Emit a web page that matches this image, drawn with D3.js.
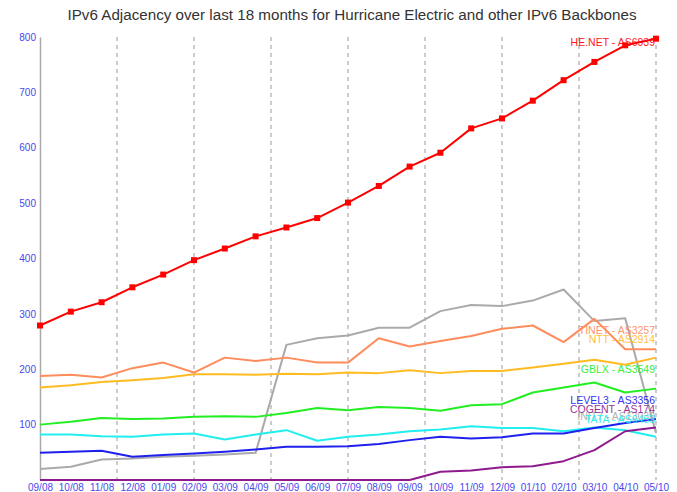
<!DOCTYPE html>
<html><head><meta charset="utf-8">
<script src="https://cdn.jsdelivr.net/npm/d3@7"></script>
<style>body{margin:0;background:#fff}svg{display:block}text{font-family:"Liberation Sans",Arial,sans-serif}</style>
</head><body><div id="chart"></div>
<script>
const months = ["09/08","10/08","11/08","12/08","01/09","02/09","03/09","04/09","05/09","06/09","07/09","08/09","09/09","10/09","11/09","12/09","01/10","02/10","03/10","04/10","05/10"];
const yTicks = [100,200,300,400,500,600,700,800];
const heNet  = [279,304,321,348,371,397,418,440,456,473,501,531,566,591,635,653,685,722,755,785,797];
const tinet  = [188,190,185,202,212,194,221,215,221,212,212,256,241,251,260,273,279,249,291,236,236];
const ntt    = [167,171,177,180,184,191,191,190,192,191,194,193,198,193,197,197,203,210,217,208,221];
const gblx   = [100,105,112,110,111,114,115,114,121,130,126,132,130,125,135,137,158,167,176,158,165];
const level3 = [49,51,53,42,45,48,51,55,60,60,61,65,72,78,75,77,84,84,94,103,110];
const cogent = [0,0,0,0,0,0,0,0,0,0,0,0,0,15,17,23,25,34,54,88,95];
const tata   = [82,82,79,78,82,84,73,82,90,71,78,82,88,91,97,94,94,88,95,90,78];
const init7  = [20,24,37,39,42,44,46,49,244,256,261,275,275,305,316,314,324,344,287,292,85];
const seriesNames = ["INIT7 - AS13030","TATA - AS6453","COGENT - AS174","LEVEL3 - AS3356","GBLX - AS3549","NTT - AS2914","TINET - AS3257","HE.NET - AS6939"];
const seriesValues = [init7, tata, cogent, level3, gblx, ntt, tinet, heNet];
const seriesColors = ["#aaaaaa","#22eeee","#8e1a8e","#2020ee","#22ee22","#ffbb22","#ff8c5c","#ff0000"];
const labelAnchors = [115.5,110,127.6,143,200,254.5,269.5,790];
const title = "IPv6 Adjacency over last 18 months for Hurricane Electric and other IPv6 Backbones";

const W = 677, H = 492;
const svg = d3.select("#chart").append("svg").attr("width", W).attr("height", H);
const x = d3.scalePoint().domain(months).range([40, 656]);
const y = d3.scaleLinear().domain([0, 800]).range([480, 37]);

svg.append("text").attr("x", 352).attr("y", 20).attr("text-anchor","middle")
  .attr("font-size", 15.2).attr("fill", "#333").text(title);

// dashed vertical grid at 8 equal divisions
const xr = x.range();
const gridPos = d3.range(1, 9).map(k => xr[0] + k * (xr[1] - xr[0]) / 8);
svg.append("g").selectAll("line").data(gridPos).join("line")
  .attr("x1", d => d).attr("x2", d => d).attr("y1", y(800)).attr("y2", y(0))
  .attr("stroke", "#999").attr("stroke-width", 1).attr("stroke-dasharray", "4,4");

// y axis
const yAxis = d3.axisLeft(y).tickValues(yTicks).tickSize(0).tickPadding(4);
const gy = svg.append("g").attr("transform", "translate(40,0)").call(yAxis);
gy.select(".domain").attr("stroke", "#aaa").attr("stroke-width", 1.5);
gy.selectAll("text").attr("fill", "#4848ee").attr("font-size", 10).attr("font-family", "Liberation Sans, Arial, sans-serif");

// x axis labels
const xAxis = d3.axisBottom(x).tickSize(0).tickPadding(4);
const gx = svg.append("g").attr("transform", "translate(0,480)").call(xAxis);
gx.select(".domain").remove();
gx.selectAll("text").attr("fill", "#4848ee").attr("font-size", 10).attr("font-family", "Liberation Sans, Arial, sans-serif");

const line = d3.line().x((d, i) => x(months[i])).y(d => y(d));
seriesValues.forEach((vals, si) => {
  svg.append("path").datum(vals).attr("d", line).attr("fill", "none")
    .attr("stroke", seriesColors[si]).attr("stroke-width", 2).attr("stroke-linejoin", "round");
});

// markers for HE.NET
svg.append("g").selectAll("rect").data(heNet).join("rect")
  .attr("x", (d, i) => x(months[i]) - 3).attr("y", d => y(d) - 3)
  .attr("width", 6).attr("height", 6).attr("fill", "#ff0000");

// labels
svg.append("g").selectAll("text").data(seriesNames).join("text")
  .attr("x", 655).attr("y", (d, i) => y(labelAnchors[i]))
  .attr("dy", "0.35em").attr("text-anchor", "end").attr("font-size", 10.5)
  .attr("fill", (d, i) => seriesColors[i]).attr("opacity", 0.9).text(d => d);
</script></body></html>
